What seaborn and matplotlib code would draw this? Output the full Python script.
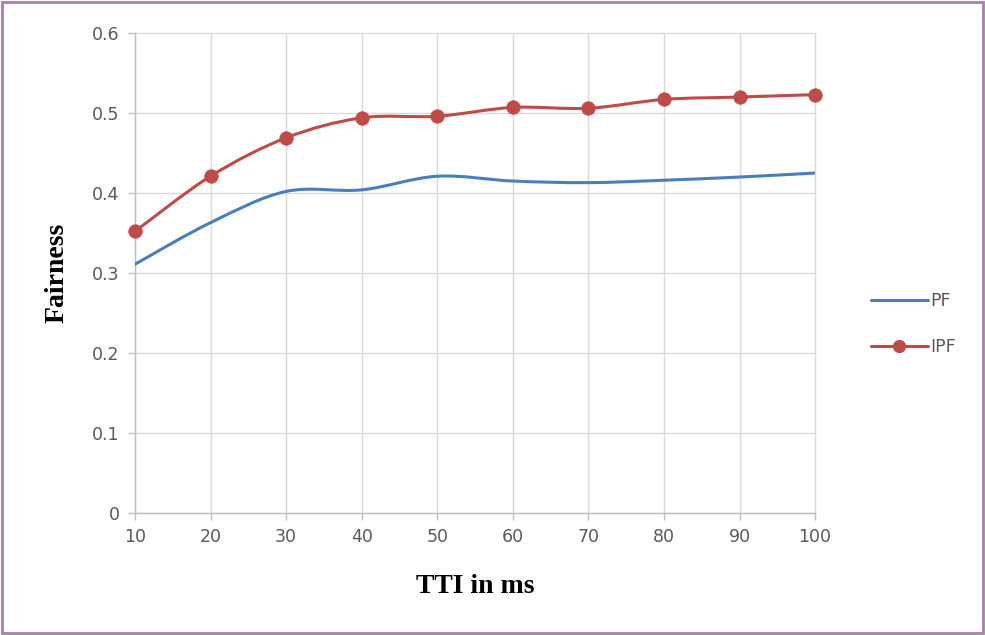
import numpy as np
import pandas as pd
import matplotlib
matplotlib.use("Agg")
import matplotlib.pyplot as plt
from matplotlib.path import Path
from matplotlib.patches import PathPatch, Rectangle
from matplotlib.lines import Line2D
import seaborn as sns

tti = [10, 20, 30, 40, 50, 60, 70, 80, 90, 100]
pf = [0.311, 0.363, 0.402, 0.404, 0.421, 0.415, 0.413, 0.416, 0.420, 0.425]
ipf = [0.352, 0.421, 0.469, 0.494, 0.496, 0.507, 0.506, 0.517, 0.520, 0.523]
y_ticks = [0, 0.1, 0.2, 0.3, 0.4, 0.5, 0.6]
y_tick_labels = ["0", "0.1", "0.2", "0.3", "0.4", "0.5", "0.6"]

BLUE = "#4a7ebb"
RED = "#be4b48"
TICK_GREY = "#595959"
GRID_GREY = "#d9d9d9"

sns.set_theme(style="white")
plt.rcParams["font.family"] = ["Liberation Sans Narrow", "DejaVu Sans"]

df = pd.DataFrame({"TTI": tti * 2, "Fairness": pf + ipf,
                   "Scheme": ["PF"] * len(tti) + ["IPF"] * len(tti)})

fig = plt.figure(figsize=(9.85, 6.35), dpi=100)
ax = fig.add_axes([0.137, 0.192, 0.6905, 0.756])


def smooth_path(xs, ys):
    """Cubic Bezier path through the points (Catmull-Rom style tangents)."""
    xs = np.asarray(xs, float)
    ys = np.asarray(ys, float)
    n = len(xs)
    verts = [(xs[0], ys[0])]
    codes = [Path.MOVETO]
    t = 1.0 / 6.0
    for i in range(n - 1):
        p0 = (xs[max(i - 1, 0)], ys[max(i - 1, 0)])
        p1 = (xs[i], ys[i])
        p2 = (xs[i + 1], ys[i + 1])
        p3 = (xs[min(i + 2, n - 1)], ys[min(i + 2, n - 1)])
        c1 = (p1[0] + (p2[0] - p0[0]) * t, p1[1] + (p2[1] - p0[1]) * t)
        c2 = (p2[0] - (p3[0] - p1[0]) * t, p2[1] - (p3[1] - p1[1]) * t)
        verts += [c1, c2, p2]
        codes += [Path.CURVE4] * 3
    return Path(verts, codes)


# smoothed series lines
for vals, col in [(pf, BLUE), (ipf, RED)]:
    ax.add_patch(PathPatch(smooth_path(tti, vals), facecolor="none",
                           edgecolor=col, lw=2.2, zorder=3,
                           capstyle="round", joinstyle="round"))

# IPF markers
sns.scatterplot(data=df[df["Scheme"] == "IPF"], x="TTI", y="Fairness",
                color=RED, s=95, edgecolor=RED, linewidth=0.5,
                ax=ax, zorder=4, legend=False, clip_on=False)

ax.set_xlim(10, 100)
ax.set_ylim(0, 0.6)
ax.set_xticks(tti)
ax.set_xticklabels([str(v) for v in tti])
ax.set_yticks(y_ticks)
ax.set_yticklabels(y_tick_labels)
ax.grid(True, color=GRID_GREY, lw=1.0)
ax.set_axisbelow(True)
for gl in ax.get_xgridlines() + ax.get_ygridlines():
    gl.set_clip_on(False)

for side in ["top", "right"]:
    ax.spines[side].set_visible(False)
for side in ["left", "bottom"]:
    ax.spines[side].set_color("#bfbfbf")
    ax.spines[side].set_linewidth(1.0)

ax.tick_params(axis="both", which="major", length=5, width=1.0,
               color="#bfbfbf", labelcolor=TICK_GREY, labelsize=12.5,
               direction="out", left=True, bottom=True)
ax.tick_params(axis="y", pad=6)
ax.tick_params(axis="x", pad=6)

ax.set_xlabel("TTI in ms", family="Liberation Serif", fontweight="bold",
              fontsize=20, color="black", labelpad=20)
ax.set_ylabel("Fairness", family="Liberation Serif", fontweight="bold",
              fontsize=20, color="black", labelpad=16)

handles = [Line2D([], [], color=BLUE, lw=2.2, label="PF"),
           Line2D([], [], color=RED, lw=2.2, marker="o", markersize=8.5,
                  label="IPF")]
leg = fig.legend(handles=handles, loc="center left",
                 bbox_to_anchor=(0.884, 0.49), frameon=False,
                 fontsize=12.5, handlelength=3.3, handletextpad=0.15,
                 labelspacing=1.6, borderaxespad=0, borderpad=0)
for txt in leg.get_texts():
    txt.set_color(TICK_GREY)

# figure border
fig.patches.append(Rectangle((0.002, 0.003), 0.996, 0.994,
                             transform=fig.transFigure, fill=False,
                             edgecolor="#a77fa7", lw=2.0))

fig.savefig("out.png", dpi=100, facecolor="white")
